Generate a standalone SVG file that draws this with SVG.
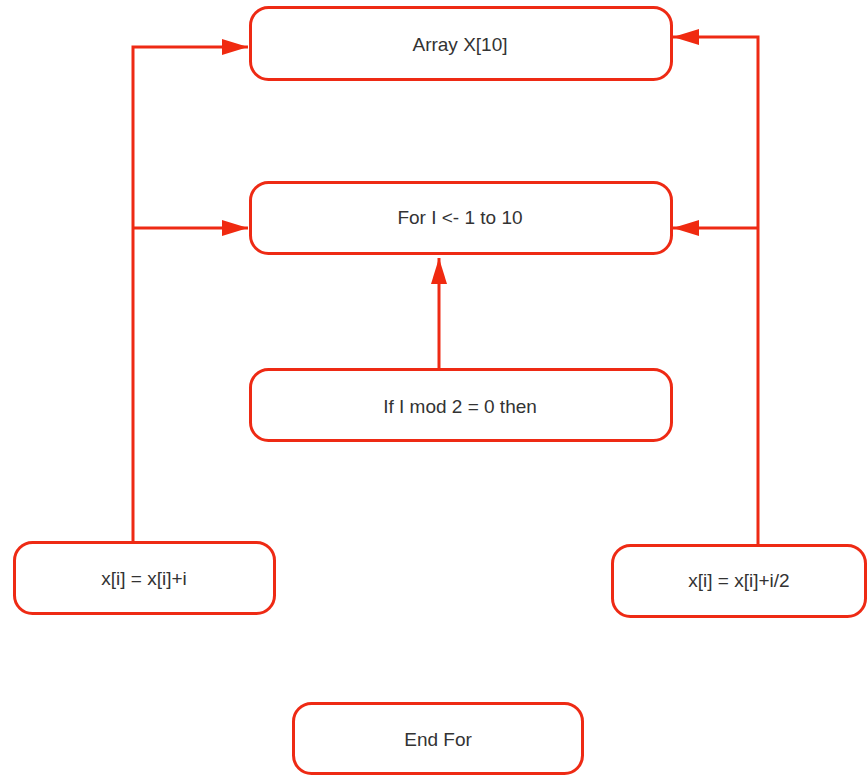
<svg xmlns="http://www.w3.org/2000/svg" width="867" height="776" viewBox="0 0 867 776">
<defs>
<style>
.box{fill:#ffffff;stroke:#ee2a14;stroke-width:3}
.lbl{font-family:"Liberation Sans",Arial,sans-serif;font-size:19px;fill:#333333;text-anchor:middle;dominant-baseline:central}
.ln{fill:none;stroke:#ee2a14;stroke-width:3}
</style>
<marker id="ah" markerUnits="userSpaceOnUse" viewBox="0 0 26 16" refX="26" refY="8" markerWidth="26" markerHeight="16" orient="auto">
<path d="M0,0 L26,8 L0,16 Z" fill="#f02a10"/>
</marker>
</defs>
<rect width="867" height="776" fill="#ffffff"/>
<g id="connectors">
<path class="ln" d="M133,542 V47 H248" marker-end="url(#ah)"/>
<path class="ln" d="M133,228 H248" marker-end="url(#ah)"/>
<path class="ln" d="M758,545 V37 H673" marker-end="url(#ah)"/>
<path class="ln" d="M758,228 H673" marker-end="url(#ah)"/>
<path class="ln" d="M439,369 V258" marker-end="url(#ah)"/>
</g>
<g id="n1"><rect class="box" x="250.5" y="7.5" width="421" height="72" rx="18"/><text class="lbl" x="460" y="44">Array X[10]</text></g>
<g id="n2"><rect class="box" x="250.5" y="182.5" width="421" height="71" rx="18"/><text class="lbl" x="460" y="217">For I &lt;- 1 to 10</text></g>
<g id="n3"><rect class="box" x="250.5" y="369.5" width="421" height="71" rx="18"/><text class="lbl" x="460" y="406">If I mod 2 = 0 then</text></g>
<g id="n4"><rect class="box" x="14.5" y="542.5" width="260" height="71" rx="18"/><text class="lbl" x="144" y="578">x[i] = x[i]+i</text></g>
<g id="n5"><rect class="box" x="612.5" y="545.5" width="253" height="71" rx="18"/><text class="lbl" x="739" y="580">x[i] = x[i]+i/2</text></g>
<g id="n6"><rect class="box" x="293.5" y="703.5" width="289" height="70" rx="18"/><text class="lbl" x="438" y="739">End For</text></g>
</svg>
